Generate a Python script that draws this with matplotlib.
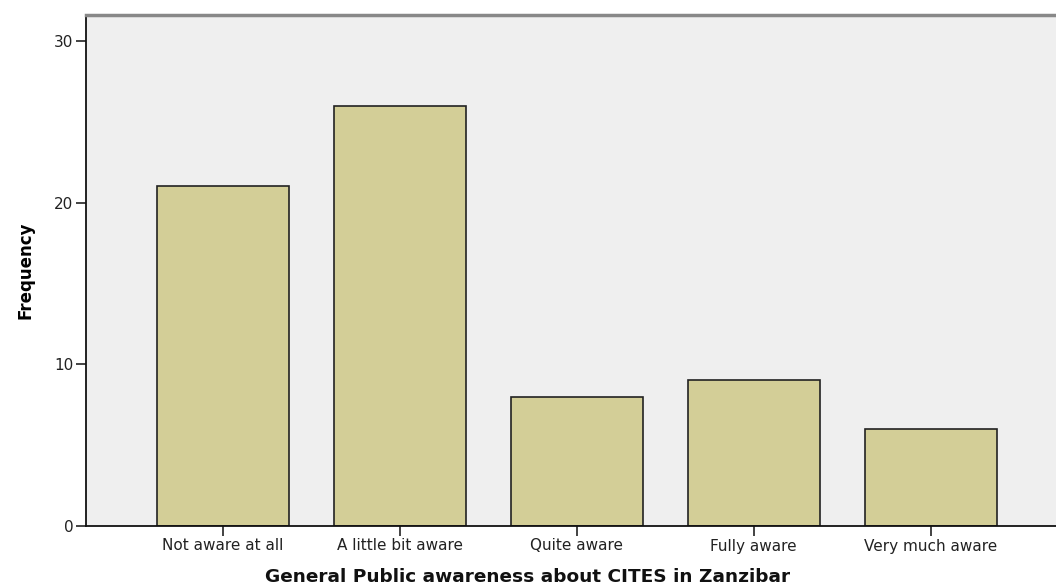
import matplotlib
matplotlib.use("Agg")
import matplotlib.pyplot as plt

categories = ["Not aware at all", "A little bit aware", "Quite aware", "Fully aware", "Very much aware"]
frequencies = [21, 26, 8, 9, 6]
y_ticks = [0, 10, 20, 30]

plt.rcParams['font.family'] = ['DejaVu Sans']

W, H = 1056, 584
fig = plt.figure(figsize=(W / 100, H / 100), dpi=100)
ax = fig.add_axes([86 / W, (H - 526) / H, (W - 86) / W, (526 - 15) / H])
ax.set_facecolor("#EFEFEF")

x = list(range(len(categories)))
ax.bar(x, frequencies, width=0.746, color="#D3CE97", edgecolor="#222222", linewidth=1.2, zorder=2)

ax.set_xlim(-0.774, 4.708)
ax.set_ylim(0, 31.6)
ax.set_yticks(y_ticks)
ax.set_yticklabels([str(t) for t in y_ticks], fontsize=11, color="#222222")
ax.set_xticks(x)
ax.set_xticklabels(categories, fontsize=11, color="#222222")
ax.tick_params(axis="both", direction="out", length=7, width=1.2, color="#222222")
ax.tick_params(axis="x", pad=2)
ax.tick_params(axis="y", pad=2)

ax.spines["right"].set_visible(False)
ax.spines["top"].set_color("#888888")
ax.spines["top"].set_linewidth(2.5)
ax.spines["left"].set_color("#111111")
ax.spines["left"].set_linewidth(1.3)
ax.spines["bottom"].set_color("#111111")
ax.spines["bottom"].set_linewidth(1.3)

fig.text(0.5, (H - 577) / H, "General Public awareness about CITES in Zanzibar",
         fontsize=13.3, fontweight="bold", ha="center", va="center", color="#111111")
ax.set_ylabel("Frequency", fontsize=12, fontweight="bold", labelpad=14)

fig.savefig("out.png", dpi=100)
